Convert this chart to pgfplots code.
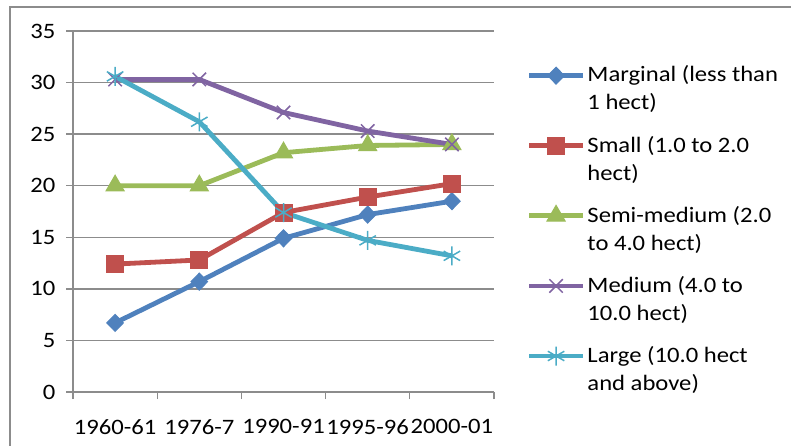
\documentclass[border=0pt]{standalone}
\usepackage{fontspec}
\setmainfont{Carlito}[FakeStretch=1.12]
\usepackage{pgfplots}
\pgfplotsset{compat=1.18}
\definecolor{cMar}{HTML}{4F81BD}
\definecolor{cSma}{HTML}{C0504D}
\definecolor{cSem}{HTML}{9BBB59}
\definecolor{cMed}{HTML}{8064A2}
\definecolor{cLar}{HTML}{4BACC6}
\definecolor{gridgray}{HTML}{8C8C8C}
\begin{document}
\begin{tikzpicture}[x=1pt,y=1pt]
\useasboundingbox (0,0) rectangle (791,446);
\draw[gridgray, line width=1.3pt] (10,-5) -- (10,439) -- (800,439);
\begin{axis}[
  at={(73pt,54pt)}, anchor=south west, scale only axis,
  width=421pt, height=361pt,
  xmin=-0.5, xmax=4.5, ymin=0, ymax=35,
  ytick={0,5,...,35},
  xtick={-0.5,0.5,...,4.5}, xticklabels={,,,,,,},
  extra x ticks={0,1,2,3,4},
  extra x tick labels={1960-61,1976-7,1990-91,1995-96,2000-01},
  extra x tick style={major tick length=0pt, grid=none},
  xticklabel style={yshift=-24pt},
  yticklabel style={xshift=-7pt},
  axis x line*=bottom, axis y line*=left,
  axis line style={gridgray, line width=1.3pt},
  tick align=outside, major tick length=7pt,
  tick style={gridgray, line width=1.3pt},
  ymajorgrids, grid style={gridgray, line width=1.3pt},
  font=\fontsize{22}{27}\selectfont,
  /pgf/number format/assume math mode=true,
  clip=false,
  every axis plot/.append style={line width=4.8pt},
  legend image code/.code={%
    \draw[#1, yshift=13pt] plot[mark repeat=2, mark phase=2] coordinates {(0pt,0pt) (27pt,0pt) (54pt,0pt)};},
  legend cell align=left,
  legend style={draw=none, fill=none, at={(1.07,0.915)}, anchor=north west,
    row sep=20.5pt, column sep=0pt,
    nodes={align=left, inner sep=2pt, font=\fontsize{22}{28}\selectfont}},
]
\addplot[cMar, mark=diamond*, mark size=8.5pt, mark options={xscale=1.3, line width=1pt}]
  coordinates {(0,6.7) (1,10.7) (2,14.9) (3,17.2) (4,18.5)};
\addlegendentry{Marginal (less than\\1 hect)}
\addplot[cSma, mark=square*, mark size=8.5pt, mark options={line width=1pt}]
  coordinates {(0,12.4) (1,12.8) (2,17.4) (3,18.9) (4,20.2)};
\addlegendentry{Small (1.0 to 2.0\\hect)}
\addplot[cSem, mark=triangle*, mark size=10.5pt, mark options={line width=1pt}]
  coordinates {(0,20.0) (1,20.0) (2,23.2) (3,23.9) (4,24.0)};
\addlegendentry{Semi-medium (2.0\\to 4.0 hect)}
\addplot[cMed, mark=x, mark size=9.5pt, mark options={line width=1.5pt}]
  coordinates {(0,30.3) (1,30.3) (2,27.1) (3,25.3) (4,24.0)};
\addlegendentry{Medium (4.0 to\\10.0 hect)}
\addplot[cLar, mark=asterisk, mark size=9.5pt, mark options={line width=1.5pt}]
  coordinates {(0,30.6) (1,26.2) (2,17.4) (3,14.7) (4,13.2)};
\addlegendentry{Large (10.0 hect\\and above)}
\end{axis}
\end{tikzpicture}
\end{document}
